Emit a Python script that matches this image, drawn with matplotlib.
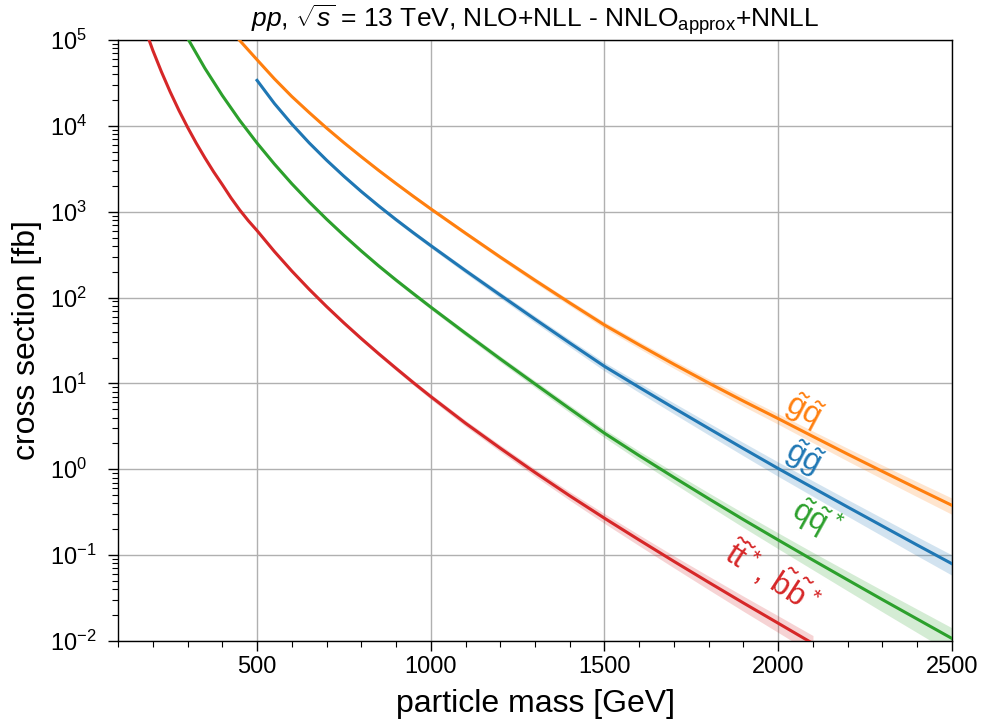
import numpy as np
import matplotlib
matplotlib.use("Agg")
import matplotlib.pyplot as plt
from matplotlib.ticker import FixedLocator, MultipleLocator, LogFormatterSciNotation, NullFormatter

plt.rcParams['font.family'] = ['Liberation Sans', 'DejaVu Sans']
plt.rcParams['mathtext.fontset'] = 'custom'
plt.rcParams['mathtext.rm'] = 'Liberation Sans'
plt.rcParams['mathtext.it'] = 'Liberation Sans:italic'
plt.rcParams['mathtext.bf'] = 'Liberation Sans:bold'
plt.rcParams['mathtext.sf'] = 'Liberation Sans'

# ---- data (cross sections in fb, relative uncertainty in %) ----
mass_gq = [400, 450, 500, 550, 600, 650, 700, 750, 800, 850, 900, 950, 1000,
           1100, 1200, 1300, 1400, 1500, 1600, 1700, 1800, 1900, 2000,
           2100, 2200, 2300, 2400, 2500]
xsec_gq = [1.72e5, 9.89e4, 5.89e4, 3.53e4, 2.20e4, 1.43e4, 9.44e3, 6.37e3, 4.37e3,
           3.03e3, 2.13e3, 1.51e3, 1.08e3, 562, 296, 159, 86.7, 47.9, 28.1, 16.7,
           10.1, 6.22, 3.89, 2.41, 1.50, 0.944, 0.597, 0.380]
unc_gq = [3, 3, 3, 3, 3, 3.2, 3.5, 3.7, 4, 4.2, 4.5, 4.7, 5, 5.5, 6, 7, 7.5, 8.5,
          9.5, 10.5, 11.5, 13, 14, 15.5, 17, 18.5, 20, 21.5]

mass_gg = [500, 550, 600, 650, 700, 750, 800, 850, 900, 950, 1000,
           1100, 1200, 1300, 1400, 1500, 1600, 1700, 1800, 1900, 2000,
           2100, 2200, 2300, 2400, 2500]
xsec_gg = [3.39e4, 1.82e4, 1.05e4, 6.34e3, 3.99e3, 2.59e3, 1.72e3, 1.17e3, 809, 568,
           403, 206, 107, 56.0, 29.6, 15.8, 8.99, 5.16, 2.99, 1.74, 1.02, 0.608,
           0.363, 0.218, 0.131, 0.0794]
unc_gg = [4, 4, 4, 4.2, 4.5, 4.7, 5, 5.2, 5.5, 5.7, 6, 7, 8, 9, 10, 11.5, 13, 14.5,
          16, 17.5, 19, 20.5, 22, 23.5, 25, 26.5]

mass_qq = [250, 300, 350, 400, 450, 500, 550, 600, 650, 700, 750, 800, 850, 900,
           950, 1000, 1100, 1200, 1300, 1400, 1500, 1600, 1700, 1800, 1900, 2000,
           2100, 2200, 2300, 2400, 2500]
xsec_qq = [2.57e5, 1.05e5, 4.68e4, 2.26e4, 1.16e4, 6.31e3, 3.59e3, 2.12e3, 1.30e3,
           820, 530, 349, 234, 160, 111, 77.4, 38.4, 19.3, 9.86, 5.07, 2.63, 1.44,
           0.804, 0.454, 0.259, 0.150, 0.0875, 0.0514, 0.0303, 0.0180, 0.0107]
unc_qq = [3, 3, 3, 3, 3.5, 3.5, 3.7, 4, 4.2, 4.5, 4.7, 5, 5.2, 5.5, 5.7, 6, 7, 8, 9,
          10, 11, 13, 15, 17, 19, 21, 23, 25.5, 28, 30.5, 33]

mass_tt = [175, 200, 225, 250, 275, 300, 325, 350, 375, 400, 425, 450, 475,
           500, 550, 600, 650, 700, 750, 800, 850, 900, 950, 1000,
           1100, 1200, 1300, 1400, 1500, 1600, 1700, 1800, 1900, 2000, 2100]
xsec_tt = [1.45e5, 7.59e4, 4.25e4, 2.49e4, 1.52e4, 9.64e3, 6.30e3, 4.24e3, 2.92e3,
           2.07e3, 1.45e3, 1.05e3, 785, 603, 344, 204, 125, 78.7, 50.7, 33.3, 22.2,
           15.0, 10.2, 7.03, 3.44, 1.76, 0.918, 0.491, 0.269, 0.150, 0.0845, 0.0482,
           0.0277, 0.0161, 0.00933]
unc_tt = [3, 3, 3, 3, 3, 3, 3, 3, 3.5, 3.5, 3.5, 4, 4, 4, 4.2, 4.5, 4.7, 5, 5.2, 5.5,
          5.7, 6, 6.5, 7, 8, 9, 10, 11.5, 13, 14.5, 16, 18, 20, 22, 24]

x_ticks = [500, 1000, 1500, 2000, 2500]
y_ticks = [1e-2, 1e-1, 1e0, 1e1, 1e2, 1e3, 1e4, 1e5]

labels = [r"$\tilde{\mathrm{g}}\tilde{\mathrm{q}}$",
          r"$\tilde{\mathrm{g}}\tilde{\mathrm{g}}$",
          r"$\tilde{\mathrm{q}}\tilde{\mathrm{q}}^*$",
          r"$\tilde{\mathrm{t}}\tilde{\mathrm{t}}^*,\,\tilde{\mathrm{b}}\tilde{\mathrm{b}}^*$"]

series = [
    (mass_gq, xsec_gq, unc_gq, '#ff7f0e'),
    (mass_gg, xsec_gg, unc_gg, '#1f77b4'),
    (mass_qq, xsec_qq, unc_qq, '#2ca02c'),
    (mass_tt, xsec_tt, unc_tt, '#d62728'),
]
# label anchor (mass, xsec) and rotation
label_pos = [(2074, 4.8, -28), (2074, 1.36, -28), (2110, 0.26, -29), (1985, 0.056, -33)]

fig = plt.figure(figsize=(9.87, 7.26), dpi=100)
ax = fig.add_axes([0.1196, 0.1171, 0.9645 - 0.1196, 0.9449 - 0.1171])

for (m, s, u, c) in series:
    m = np.asarray(m, float)
    s = np.asarray(s, float)
    u = np.asarray(u, float) / 100.0
    ax.fill_between(m, s * (1 - u), s * (1 + u), color=c, alpha=0.2, lw=0, zorder=2)
    ax.plot(m, s, color=c, lw=2.2, zorder=3)

for (lab, (xm, ys, rot), (_, _, _, c)) in zip(labels, label_pos, series):
    ax.text(xm, ys, lab, color=c, fontsize=23, rotation=rot, ha='center', va='center',
            rotation_mode='anchor', zorder=4)

ax.set_yscale('log')
ax.set_xlim(100, 2500)
ax.set_ylim(1e-2, 1e5)
ax.xaxis.set_major_locator(FixedLocator(x_ticks))
ax.xaxis.set_minor_locator(MultipleLocator(100))
ax.yaxis.set_major_locator(FixedLocator(y_ticks))
ax.yaxis.set_major_formatter(LogFormatterSciNotation())
minor_y = [k * 10.0 ** e for e in range(-2, 5) for k in range(2, 10)]
ax.yaxis.set_minor_locator(FixedLocator(minor_y))
ax.yaxis.set_minor_formatter(NullFormatter())
ax.grid(True, which='major', color='#b0b0b0', lw=1.0, zorder=0)
ax.set_axisbelow(True)
ax.tick_params(which='both', direction='out', top=False, right=False, labelsize=17)
ax.tick_params(which='major', length=7, width=1.0)
ax.tick_params(which='minor', length=4, width=0.8)
# y tick labels left-aligned at a common left edge, as in the reference
ax.tick_params(axis='y', which='major', pad=42)
for lbl in ax.get_yticklabels():
    lbl.set_horizontalalignment('left')
for sp in ax.spines.values():
    sp.set_linewidth(1.0)

ax.set_xlabel('particle mass [GeV]', fontsize=23, labelpad=8)
ax.set_ylabel('cross section [fb]', fontsize=23, labelpad=6)
ax.set_title(r"$pp$, $\sqrt{s}$ = 13 TeV, NLO+NLL - NNLO$_{\mathrm{approx}}$+NNLL",
             fontsize=19, pad=9)

fig.savefig('out.png', dpi=100)
